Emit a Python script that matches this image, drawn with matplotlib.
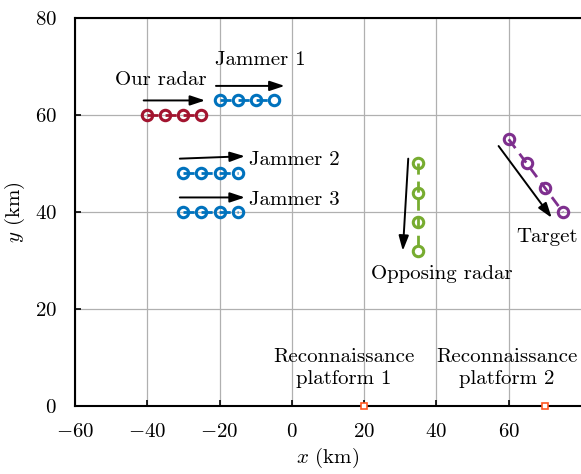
import matplotlib
matplotlib.use("Agg")
import matplotlib.pyplot as plt

plt.rcParams["font.family"] = "serif"
plt.rcParams["font.serif"] = ["cmr10", "DejaVu Serif"]
plt.rcParams["mathtext.fontset"] = "cm"
plt.rcParams["axes.formatter.use_mathtext"] = True

# Track points (km)
our_radar_x = [-40, -35, -30, -25]
our_radar_y = [60, 60, 60, 60]
jammer1_x = [-20, -15, -10, -5]
jammer1_y = [63, 63, 63, 63]
jammer2_x = [-30, -25, -20, -15]
jammer2_y = [48, 48, 48, 48]
jammer3_x = [-30, -25, -20, -15]
jammer3_y = [40, 40, 40, 40]
opp_radar_x = [35, 35, 35, 35]
opp_radar_y = [50, 44, 38, 32]
target_x = [60, 65, 70, 75]
target_y = [55, 50, 45, 40]
platform_x = [20, 70]
platform_y = [0, 0]

x_ticks = [-60, -40, -20, 0, 20, 40, 60]
y_ticks = [0, 20, 40, 60, 80]

fig = plt.figure(figsize=(5.81, 4.74), dpi=100)
ax = fig.add_axes([75 / 581, (474 - 406) / 474, 506 / 581, 388 / 474])

track_style = dict(linestyle="--", linewidth=2, marker="o", markersize=7.5,
                   markerfacecolor="none", markeredgewidth=2.2, dashes=(4, 2.5))
ax.plot(our_radar_x, our_radar_y, color="#A2142F", **track_style)
ax.plot(jammer1_x, jammer1_y, color="#0072BD", **track_style)
ax.plot(jammer2_x, jammer2_y, color="#0072BD", **track_style)
ax.plot(jammer3_x, jammer3_y, color="#0072BD", **track_style)
ax.plot(opp_radar_x, opp_radar_y, color="#77AC30", **track_style)
ax.plot(target_x, target_y, color="#7E2F8E", **track_style)
ax.plot(platform_x, platform_y, linestyle="none", marker="s", markersize=5,
        markerfacecolor="white", markeredgecolor="#FF5722", markeredgewidth=1.2,
        clip_on=False, zorder=5)

# Direction-of-motion arrows
arrows = [
    ((-41, 63), (-24, 63)),
    ((-21, 66), (-2, 66)),
    ((-31, 51), (-13, 51.5)),
    ((-31, 43), (-13, 43)),
    ((32.2, 51), (30.7, 32)),
    ((57.2, 53.6), (71.9, 38.8)),
]
for start, end in arrows:
    ax.annotate("", xy=end, xytext=start,
                arrowprops=dict(arrowstyle="-|>,head_length=0.9,head_width=0.3",
                                color="black", lw=1.4, shrinkA=0, shrinkB=0))

fs = 15
ax.text(-36.2, 67.2, "Our radar", fontsize=fs, ha="center", va="center")
ax.text(-8.8, 71.3, "Jammer 1", fontsize=fs, ha="center", va="center")
ax.text(-11.8, 50.8, "Jammer 2", fontsize=fs, ha="left", va="center")
ax.text(-11.8, 42.5, "Jammer 3", fontsize=fs, ha="left", va="center")
ax.text(41.5, 27.3, "Opposing radar", fontsize=fs, ha="center", va="center")
ax.text(70.5, 34.8, "Target", fontsize=fs, ha="center", va="center")
ax.text(14.4, 7.8, "Reconnaissance\nplatform 1", fontsize=fs, ha="center",
        va="center", linespacing=1.3)
ax.text(59.4, 7.8, "Reconnaissance\nplatform 2", fontsize=fs, ha="center",
        va="center", linespacing=1.3)

ax.set_xlim(-60, 80)
ax.set_ylim(0, 80)
ax.set_xticks(x_ticks)
ax.set_yticks(y_ticks)
ax.grid(True, color="#b0b0b0", linewidth=0.9)
ax.set_axisbelow(True)
ax.tick_params(direction="in", labelsize=fs, length=4, width=1.2)
ax.tick_params(axis="x", pad=12)
ax.tick_params(axis="y", pad=13)
for side in ["left", "bottom", "top"]:
    ax.spines[side].set_linewidth(1.5)
ax.spines["right"].set_visible(False)
ax.set_xlabel(r"$x$ (km)", fontsize=fs, labelpad=4)
ax.set_ylabel(r"$y$ (km)", fontsize=fs, labelpad=6)

fig.savefig("out.png", dpi=100)
